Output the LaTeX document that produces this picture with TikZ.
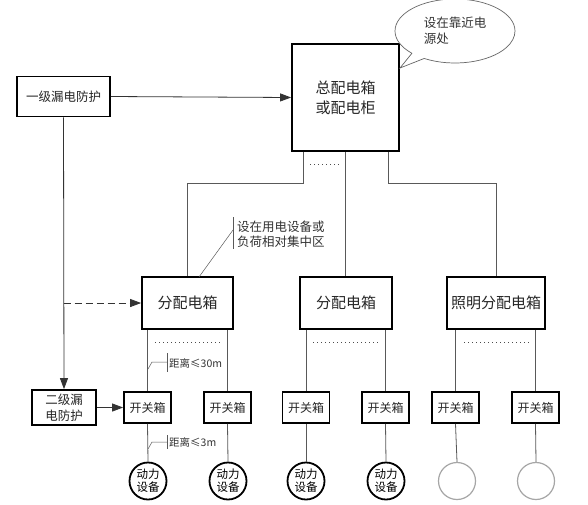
\documentclass[tikz,border=0pt]{standalone}
\usepackage{fontspec}
\setmainfont{Noto Sans CJK SC}
\usetikzlibrary{arrows.meta,shapes.callouts}
\tikzset{
  bx/.style={draw=black,line width=1.8pt,fill=white,inner sep=0pt,align=center,text=black!85},
  conn/.style={draw=black!65,line width=0.8pt},
  arr/.style={conn,draw=black!80,-{Triangle[length=11pt,width=8pt]}},
  dots/.style={draw=black!70,line width=0.8pt,dash pattern=on 1pt off 3pt},
  dev/.style={circle,draw=black,line width=1.8pt,minimum size=37pt,inner sep=0pt,align=center,font=\fontsize{11.5}{13}\selectfont},
  sw/.style={bx,minimum width=47pt,minimum height=31pt,font=\fontsize{12}{14}\selectfont},
  fd/.style={bx,minimum height=52pt,font=\fontsize{15}{18}\selectfont},
  note/.style={text=black!80,align=left,inner sep=0pt}
}
\begin{document}
\begin{tikzpicture}[x=1pt,y=-1pt]
\useasboundingbox[fill=white] (0,0) rectangle (588,504);

% top level
\node[bx,minimum width=93pt,minimum height=40pt,font=\fontsize{12.5}{15}\selectfont] (l1) at (63.5,96.5) {一级漏电防护};
\node[bx,minimum width=107pt,minimum height=107pt,font=\fontsize{15}{20}\selectfont] (main) at (345.5,97.5) {总配电箱\\或配电柜};
\node[ellipse callout,draw=black!60,line width=0.7pt,fill=white,minimum width=120pt,minimum height=64pt,
      callout absolute pointer={(400,68)},align=left,inner sep=0pt,font=\fontsize{12.5}{16}\selectfont,text=black!80] (call) at (455,31) {设在靠近电\\源处};
\draw[arr] (l1.east) -- (main.west);

% distribution boxes
\node[fd,minimum width=91pt] (fd1) at (187.5,303) {分配电箱};
\node[fd,minimum width=92pt] (fd2) at (346,303) {分配电箱};
\node[fd,minimum width=98pt] (fd3) at (496,303) {照明分配电箱};

\draw[conn] ([xshift=12pt]main.south west) -- ++(0,31) -| (fd1.north);
\draw[conn] (main.south) -- (main.south |- fd2.north);
\draw[conn] ([xshift=-12pt]main.south east) -- ++(0,31) -| (fd3.north);
\coordinate (dA) at (310,164);
\coordinate (dB) at (339,164);
\draw[dots] (dA) -- (dB);

% annotation for distribution box
\coordinate (nb1) at (233,217);
\coordinate (nb2) at (233,249);
\coordinate (nlead) at (233,230);
\coordinate (nend) at (199,277);
\draw[conn,line width=0.5pt] (nb1) -- (nb2);
\draw[conn,line width=0.5pt] (nlead) -- (nend);
\node[note,anchor=west,font=\fontsize{12.5}{15.5}\selectfont] (ann) at (237,234) {设在用电设备或\\负荷相对集中区};

% second level protection
\node[bx,minimum width=64pt,minimum height=35pt,font=\fontsize{12.5}{16}\selectfont] (l2) at (64,407.5) {二级漏\\电防护};
\draw[arr] (l1.south) -- (l2.north);
\draw[arr,dashed,dash pattern=on 7pt off 4pt] (l1.south |- fd1.west) -- (fd1.west);

% switch boxes
\node[sw] (s1) at (147.5,407.5) {开关箱};
\node[sw] (s2) at (227.5,407.5) {开关箱};
\node[sw] (s3) at (306,407.5) {开关箱};
\node[sw] (s4) at (385.5,407.5) {开关箱};
\node[sw] (s5) at (455.5,407.5) {开关箱};
\node[sw] (s6) at (535.5,407.5) {开关箱};
\draw[arr] (l2.east) -- (s1.west);

\foreach \s/\f in {s1/fd1,s2/fd1,s3/fd2,s4/fd2,s5/fd3,s6/fd3}
  \draw[conn] (\s.north |- \f.south) -- (\s.north);

\coordinate (e1) at (155,342); \coordinate (e2) at (223,342);
\coordinate (e3) at (313,342); \coordinate (e4) at (381,342);
\coordinate (e5) at (464,342); \coordinate (e6) at (531,342);
\draw[dots] (e1) -- (e2);
\draw[dots] (e3) -- (e4);
\draw[dots] (e5) -- (e6);

% devices
\node[dev] (d1) at (148,481) {动力\\设备};
\node[dev] (d2) at (228,481) {动力\\设备};
\node[dev] (d3) at (306,481) {动力\\设备};
\node[dev] (d4) at (386,481) {动力\\设备};
\node[dev,draw=black!35,line width=1.2pt] (d5) at (457,481) {};
\node[dev,draw=black!35,line width=1.2pt] (d6) at (536,481) {};
\foreach \s/\d in {s1/d1,s2/d2,s3/d3,s4/d4,s5/d5,s6/d6}
  \draw[conn] (\s.south) -- (\d.north);

% distance notes
\coordinate (m1) at (148,369); \coordinate (m2) at (152,362); \coordinate (m3) at (167,362);
\coordinate (b1) at (167,353); \coordinate (b2) at (167,372);
\draw[conn,line width=0.5pt] (m1) -- (m2) -- (m3);
\draw[conn,line width=0.5pt] (b1) -- (b2);
\node[note,anchor=west,font=\fontsize{10.5}{12}\selectfont] (t30) at (169,363) {距离≤30m};
\coordinate (m4) at (148,449); \coordinate (m5) at (152,442); \coordinate (m6) at (167,442);
\coordinate (b3) at (167,435); \coordinate (b4) at (167,449);
\draw[conn,line width=0.5pt] (m4) -- (m5) -- (m6);
\draw[conn,line width=0.5pt] (b3) -- (b4);
\node[note,anchor=west,font=\fontsize{10.5}{12}\selectfont] (t3) at (169,442) {距离≤3m};
\end{tikzpicture}
\end{document}
